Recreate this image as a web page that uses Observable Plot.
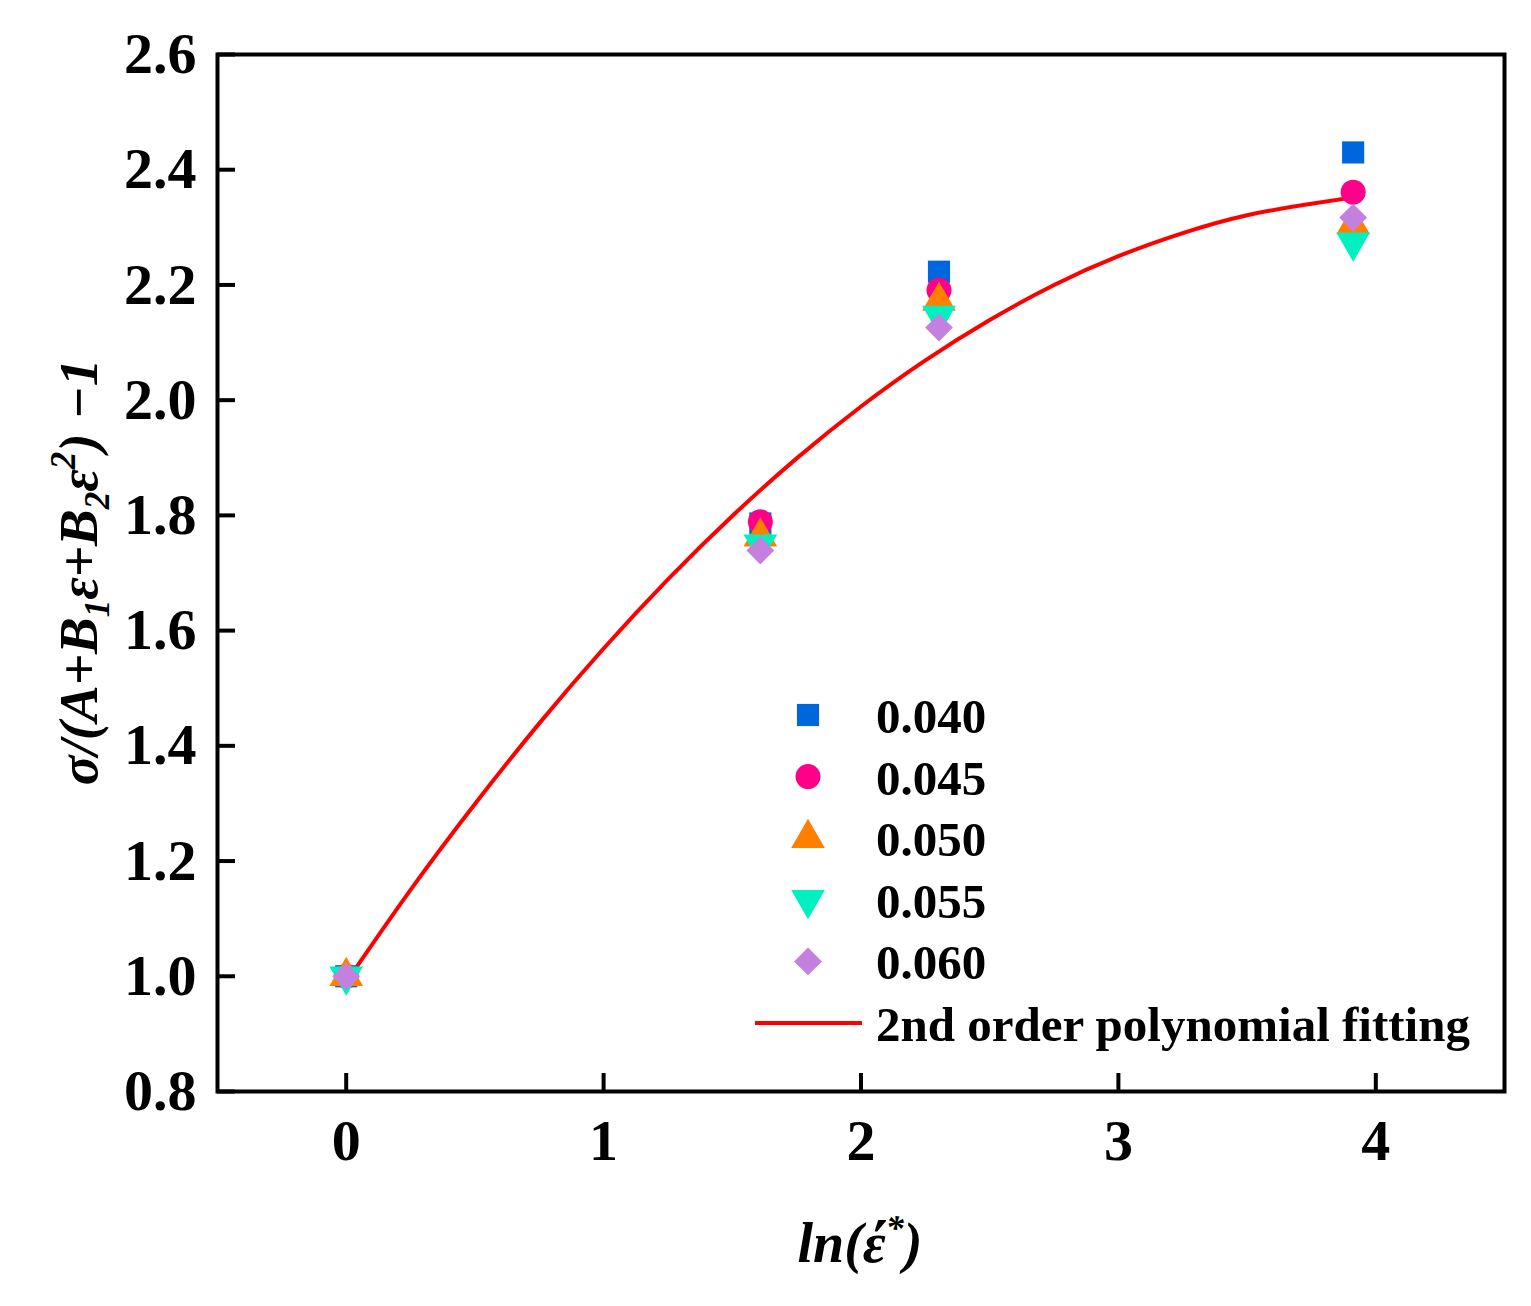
<!DOCTYPE html>
<html><head><meta charset="utf-8">
<script src="https://cdn.jsdelivr.net/npm/d3@7"></script>
<script src="https://cdn.jsdelivr.net/npm/@observablehq/plot@0.6"></script>
<style>body{margin:0;background:#fff} svg{display:block}</style>
</head><body><div id="chart"></div>
<script>
// ---- data ----
const series = ["0.040", "0.045", "0.050", "0.055", "0.060"];
const xValues = [0, 1.609, 2.303, 3.912];           // ln(strain rate ratio)
const s040 = [1.0, 1.786, 2.223, 2.430];
const s045 = [1.0, 1.789, 2.191, 2.361];
const s050 = [1.0, 1.763, 2.172, 2.305];
const s055 = [1.0, 1.750, 2.147, 2.274];
const s060 = [1.0, 1.739, 2.126, 2.317];
const fitX = [0, 0.25, 0.5, 0.75, 1.0, 1.25, 1.5, 1.75, 2.0, 2.25, 2.5, 2.75, 3.0, 3.25, 3.5, 3.75, 3.912];
const fitY = [0.99, 1.150, 1.299, 1.439, 1.569, 1.689, 1.799, 1.899, 1.989, 2.069, 2.139, 2.200, 2.250, 2.290, 2.321, 2.341, 2.352];
const xTicks = [0, 1, 2, 3, 4];
const yTicks = [0.8, 1.0, 1.2, 1.4, 1.6, 1.8, 2.0, 2.2, 2.4, 2.6];
const fitLabel = "2nd order polynomial fitting";

// ---- styles ----
const colors = ["#0066DD", "#FF0088", "#FF8000", "#00F0C0", "#C480DF"];
const triangleDown = {
  draw(context, size) {
    const y = -Math.sqrt(size / (Math.sqrt(3) * 3));
    context.moveTo(0, -y * 2);
    context.lineTo(-Math.sqrt(3) * y, y);
    context.lineTo(Math.sqrt(3) * y, y);
    context.closePath();
  }
};
const symbols = [d3.symbolSquare, d3.symbolCircle, d3.symbolTriangle, triangleDown, d3.symbolDiamond2];
const R = 12.5;

const allY = [s040, s045, s050, s055, s060];
const points = [];
series.forEach((s, i) => xValues.forEach((x, j) => points.push({series: s, x, y: allY[i][j]})));
const fit = fitX.map((x, i) => ({x, y: fitY[i]}));

const W = 1531, H = 1306;
const mL = 217, mR = 27, mT = 54, mB = 215;
const font = "'Liberation Serif', 'Times New Roman', serif";

const plot = Plot.plot({
  width: W, height: H,
  marginLeft: mL, marginRight: mR, marginTop: mT, marginBottom: mB,
  style: {fontFamily: font, fontSize: "58px", fontWeight: "bold", background: "white", color: "black"},
  x: {domain: [-0.5, 4.5]},
  y: {domain: [0.8, 2.6]},
  color: {domain: series, range: colors},
  symbol: {domain: series, range: symbols},
  marks: [
    Plot.line(fit, {x: "x", y: "y", stroke: "#FF0000", strokeWidth: 4, curve: "natural"}),
    Plot.dot(points, {x: "x", y: "y", fill: "series", symbol: "series", r: R, stroke: "none"}),
    Plot.frame({stroke: "black", strokeWidth: 4}),
    Plot.axisX(xTicks, {tickSize: -18, tickPadding: 45, strokeWidth: 4, label: null, tickFormat: d => String(d)}),
    Plot.axisY(yTicks, {tickSize: -18, tickPadding: 39, strokeWidth: 4, label: null, tickFormat: d => d.toFixed(1)})
  ]
});
document.getElementById("chart").appendChild(plot);

const svg = d3.select(plot);

// y-axis title
const yt = svg.append("text")
  .attr("transform", "translate(97,572) rotate(-90)")
  .attr("text-anchor", "middle")
  .attr("font-family", font).attr("font-size", 55).attr("font-weight", "bold").attr("font-style", "italic")
  .attr("fill", "black");
const parts = [
  ["σ/(A+B", 0], ["1", 1], ["ε+B", 0], ["2", 1], ["ε", 0], ["2", -1], [") −", 0], ["1", 0]
];
let prev = 0;
parts.forEach(([t, k]) => {
  const shift = k === 1 ? 12 : k === -1 ? -22 : 0;
  yt.append("tspan").attr("dy", shift - prev).attr("font-size", k === 0 ? 55 : 35).text(t);
  prev = shift;
});

// x-axis title
const xt = svg.append("text")
  .attr("x", 860).attr("y", 1262)
  .attr("text-anchor", "middle")
  .attr("font-family", font).attr("font-size", 56).attr("font-weight", "bold").attr("font-style", "italic")
  .attr("fill", "black");
xt.append("tspan").text("ln(ε\u0301");
xt.append("tspan").attr("dy", -22).attr("font-size", 36).text("*");
xt.append("tspan").attr("dy", 22).text(")");

// legend
const lg = svg.append("g").attr("text-anchor", "start");
const rowH = 61.6, ly0 = 715;
series.forEach((s, i) => {
  const y = ly0 + i * rowH;
  lg.append("path")
    .attr("transform", `translate(808,${y})`)
    .attr("d", d3.symbol(symbols[i], Math.PI * R * R)())
    .attr("fill", colors[i]);
  lg.append("text").attr("x", 876).attr("y", y + 18)
    .attr("text-anchor", "start")
    .attr("font-family", font).attr("font-size", 49).attr("font-weight", "bold")
    .attr("fill", "black").text(s);
});
const ly = ly0 + 5 * rowH;
lg.append("line").attr("x1", 755).attr("x2", 862).attr("y1", ly).attr("y2", ly)
  .attr("stroke", "#FF0000").attr("stroke-width", 4);
lg.append("text").attr("x", 876).attr("y", ly + 18)
  .attr("text-anchor", "start")
  .attr("font-family", font).attr("font-size", 49).attr("font-weight", "bold")
  .attr("fill", "black").text(fitLabel);
</script>
</body></html>
